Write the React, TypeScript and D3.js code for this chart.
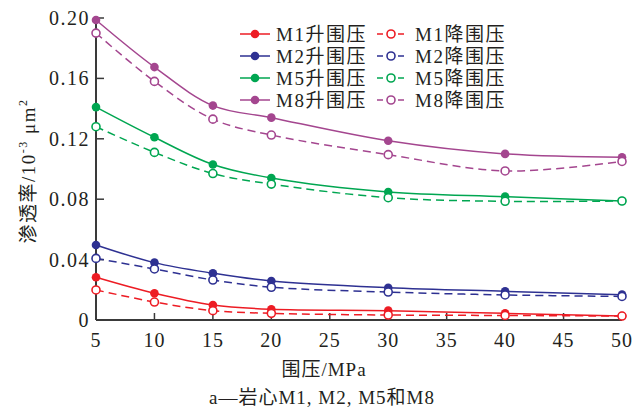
import React from "react";
import * as d3 from "d3";

const pressures = [5, 10, 15, 20, 30, 40, 50];
const m1Up = [0.0283, 0.0177, 0.0099, 0.0071, 0.0062, 0.0044, 0.0026];
const m1Down = [0.0199, 0.0119, 0.0062, 0.0044, 0.0033, 0.003, 0.0026];
const m2Up = [0.0497, 0.038, 0.031, 0.0258, 0.0214, 0.019, 0.0168];
const m2Down = [0.0408, 0.0338, 0.0265, 0.0217, 0.0185, 0.0166, 0.0156];
const m5Up = [0.141, 0.121, 0.103, 0.094, 0.0848, 0.0817, 0.0788];
const m5Down = [0.128, 0.111, 0.097, 0.09, 0.081, 0.0786, 0.0788];
const m8Up = [0.1987, 0.1675, 0.142, 0.134, 0.1187, 0.11, 0.1077];
const m8Down = [0.19, 0.158, 0.133, 0.1225, 0.1095, 0.0987, 0.105];
const xTicks = [5, 10, 15, 20, 25, 30, 35, 40, 45, 50];
const yTicks = [0, 0.04, 0.08, 0.12, 0.16, 0.2];
const yTickLabels = ["0", "0.04", "0.08", "0.12", "0.16", "0.20"];

const RED = "#ed1c24";
const BLUE = "#2e3192";
const GREEN = "#00a651";
const PURPLE = "#a4468f";

const series = [
  { name: "M1升围压", values: m1Up, color: RED, dashed: false },
  { name: "M1降围压", values: m1Down, color: RED, dashed: true },
  { name: "M2升围压", values: m2Up, color: BLUE, dashed: false },
  { name: "M2降围压", values: m2Down, color: BLUE, dashed: true },
  { name: "M5升围压", values: m5Up, color: GREEN, dashed: false },
  { name: "M5降围压", values: m5Down, color: GREEN, dashed: true },
  { name: "M8升围压", values: m8Up, color: PURPLE, dashed: false },
  { name: "M8降围压", values: m8Down, color: PURPLE, dashed: true },
];

const FONT = "'Liberation Serif', 'Times New Roman', 'Noto Sans CJK SC', serif";
const TEXT = "#231f20";
const AXIS = "#3a3a3a";

export default function App() {
  const x = d3.scaleLinear().domain([5, 50]).range([96, 622]);
  const y = d3.scaleLinear().domain([0, 0.2]).range([320, 18]);
  const line = d3
    .line<number>()
    .x((_, i) => x(pressures[i]))
    .y((d) => y(d))
    .curve(d3.curveCatmullRom.alpha(0.5));

  const legendRows = [34, 56, 78, 100];

  return (
    <svg
      width={644}
      height={409}
      style={{ position: "absolute", left: 0, top: 0, background: "#fff" }}
      fontFamily={FONT}
    >
      {/* axes */}
      <line x1={x(5)} x2={x(50)} y1={y(0)} y2={y(0)} stroke={AXIS} strokeWidth={2} />
      <line x1={x(5)} x2={x(5)} y1={y(0)} y2={y(0.2) - 1} stroke={AXIS} strokeWidth={2} />
      {xTicks.map((t) => (
        <g key={"xt" + t}>
          <line x1={x(t)} x2={x(t)} y1={y(0)} y2={y(0) - 7} stroke={AXIS} strokeWidth={1.5} />
          <text x={x(t)} y={347} textAnchor="middle" fontSize={20} fill={TEXT} letterSpacing={1}>
            {t}
          </text>
        </g>
      ))}
      {yTicks.map((t, i) => (
        <g key={"yt" + t}>
          <line x1={x(5)} x2={x(5) + 8} y1={y(t)} y2={y(t)} stroke={AXIS} strokeWidth={1.5} />
          <text
            x={90}
            y={y(t)}
            dy="0.35em"
            textAnchor="end"
            fontSize={20}
            fill={TEXT}
            letterSpacing={1.5}
          >
            {yTickLabels[i]}
          </text>
        </g>
      ))}

      {/* series */}
      {series.map((s) => (
        <g key={s.name}>
          <path
            d={line(s.values) || ""}
            fill="none"
            stroke={s.color}
            strokeWidth={1.5}
            strokeDasharray={s.dashed ? "8,5" : undefined}
          />
          {s.values.map((v, i) => (
            <circle
              key={i}
              cx={x(pressures[i])}
              cy={y(v)}
              r={s.dashed ? 4 : 4.3}
              fill={s.dashed ? "#fff" : s.color}
              stroke={s.color}
              strokeWidth={s.dashed ? 1.6 : 0}
            />
          ))}
        </g>
      ))}

      {/* legend */}
      {series.map((s, i) => {
        const col = i % 2;
        const row = Math.floor(i / 2);
        const cy = legendRows[row];
        const x0 = col === 0 ? 240 : 377;
        const x1 = col === 0 ? 270 : 405;
        const mx = (x0 + x1) / 2;
        const tx = col === 0 ? 276 : 415;
        return (
          <g key={"lg" + s.name}>
            <line
              x1={x0}
              x2={x1}
              y1={cy}
              y2={cy}
              stroke={s.color}
              strokeWidth={1.5}
              strokeDasharray={s.dashed ? "6,4.5" : undefined}
            />
            <circle
              cx={mx}
              cy={cy}
              r={s.dashed ? 4 : 4.3}
              fill={s.dashed ? "#fff" : s.color}
              stroke={s.color}
              strokeWidth={s.dashed ? 1.6 : 0}
            />
            <text x={tx} y={cy} dy="0.36em" fontSize={19} fill={TEXT} letterSpacing={1.5}>
              {s.name}
            </text>
          </g>
        );
      })}

      {/* axis titles */}
      <text
        transform="translate(28,171) rotate(-90)"
        textAnchor="middle"
        dy="0.35em"
        fontSize={19}
        fill={TEXT}
        letterSpacing={1.5}
      >
        渗透率/10
        <tspan fontSize={12} dy={-8}>-3</tspan>
        <tspan dy={8}> μm</tspan>
        <tspan fontSize={12} dy={-8}>2</tspan>
      </text>
      <text x={324} y={376} textAnchor="middle" fontSize={19} fill={TEXT} letterSpacing={1}>
        围压/MPa
      </text>
      <text x={322} y={404} textAnchor="middle" fontSize={19} fill={TEXT} letterSpacing={1}>
        a—岩心M1, M2, M5和M8
      </text>
    </svg>
  );
}
